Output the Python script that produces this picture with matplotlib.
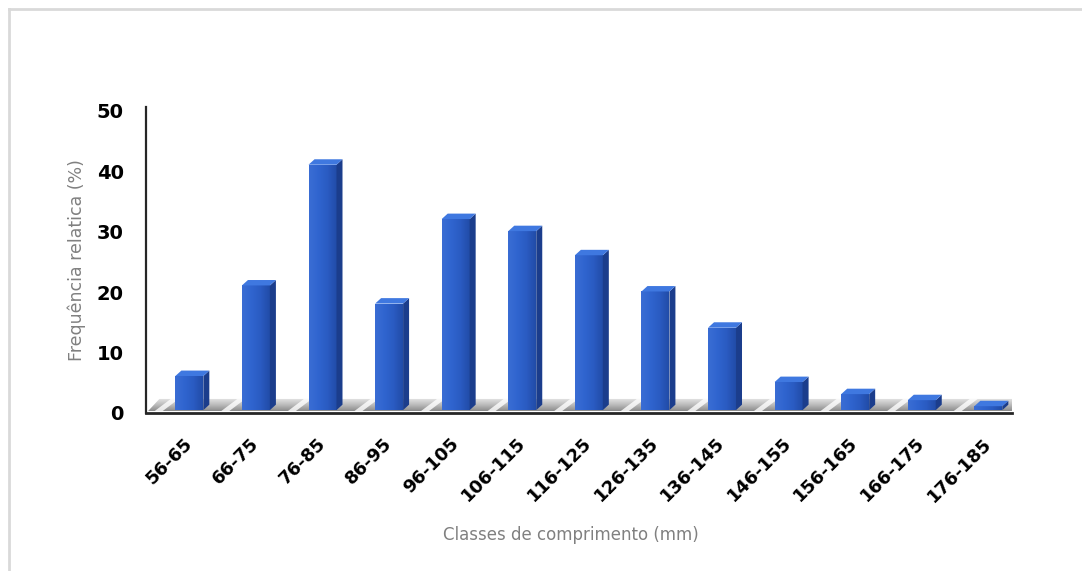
import numpy as np
import matplotlib.pyplot as plt
from matplotlib.patches import Polygon, Rectangle
from matplotlib.lines import Line2D
from matplotlib.colors import LinearSegmentedColormap

classes = ['56-65', '66-75', '76-85', '86-95', '96-105', '106-115', '116-125',
           '126-135', '136-145', '146-155', '156-165', '166-175', '176-185']
freq = [7, 22, 42, 19, 33, 31, 27, 21, 15, 6, 4, 3, 2]

fig = plt.figure(figsize=(10.82, 5.71), dpi=100)
ax = fig.add_axes([0.135, 0.277, 0.80, 0.535])

x = np.arange(len(classes))
w = 0.42      # largura da face frontal
dx = 0.09     # profundidade (horizontal)
dy = 0.9      # profundidade (vertical)
base = 0.45   # base das barras sobre o "piso"

# piso com sombra
floor = Polygon([(-0.62, 0.3), (12.35, 0.3), (12.75, 2.3), (-0.45, 2.3)],
                closed=True, facecolor='none', edgecolor='none')
ax.add_patch(floor)
grad = np.linspace(0, 1, 50).reshape(-1, 1)
im = ax.imshow(grad, extent=[-0.7, 12.8, 0.3, 2.3], origin='lower',
               cmap=LinearSegmentedColormap.from_list('floor', ['#8c8c8c', '#bdbdbd', '#e6e6e6']),
               aspect='auto', zorder=1)
im.set_clip_path(floor)
# reflexos claros em diagonal entre as barras
for xi in x:
    ax.add_patch(Polygon([(xi - 0.52, 0.3), (xi - 0.4, 0.3), (xi - 0.16, 2.3), (xi - 0.28, 2.3)],
                         closed=True, facecolor='white', alpha=0.8, edgecolor='none', zorder=1.5))

# barras com aparência 3D
front_cmap = LinearSegmentedColormap.from_list(
    'front', ['#3a6dd4', '#3065cf', '#2a5bc2', '#214ca8'])
hgrad = np.linspace(0, 1, 64).reshape(1, -1)
for xi, v in zip(x, freq):
    top = v - dy
    rect = Rectangle((xi - w / 2, base), w, top - base, facecolor='none', edgecolor='none')
    ax.add_patch(rect)
    img = ax.imshow(hgrad, extent=[xi - w / 2, xi + w / 2, base, top], cmap=front_cmap,
                    aspect='auto', zorder=3)
    img.set_clip_path(rect)
    side = Polygon([(xi + w / 2, base), (xi + w / 2 + dx, base + dy),
                    (xi + w / 2 + dx, v), (xi + w / 2, top)],
                   closed=True, facecolor='#1b3d8c', edgecolor='none', zorder=3)
    ax.add_patch(side)
    cap = Polygon([(xi - w / 2, top), (xi + w / 2, top),
                   (xi + w / 2 + dx, v), (xi - w / 2 + dx, v)],
                  closed=True, facecolor='#3f78e0', edgecolor='none', zorder=3)
    ax.add_patch(cap)

ax.set_xlim(-0.65, 12.35)
ax.set_ylim(0, 50.6)
ax.set_yticks([0, 10, 20, 30, 40, 50])
ax.set_xticks(x)
ax.set_xticklabels(classes, rotation=45, ha='right', va='center', rotation_mode='anchor',
                   fontsize=13, fontweight='bold', color='black')
ax.tick_params(axis='x', length=0, pad=20)
ax.tick_params(axis='y', length=0, pad=16, labelsize=14)
for lab in ax.get_yticklabels():
    lab.set_fontweight('bold')

for s in ['top', 'right']:
    ax.spines[s].set_visible(False)
ax.spines['left'].set_linewidth(1.6)
ax.spines['left'].set_color('#262626')
ax.spines['bottom'].set_linewidth(2)
ax.spines['bottom'].set_color('#262626')

ax.set_ylabel('Frequência relatica (%)', fontsize=12.5, color='#808080', labelpad=8)
fig.text(0.528, 0.063, 'Classes de comprimento (mm)', fontsize=12, color='#808080',
         ha='center', va='center')

# moldura da área do gráfico
fig.add_artist(Line2D([0.008, 1.0], [0.984, 0.984], color='#d9d9d9', lw=2))
fig.add_artist(Line2D([0.008, 0.008], [0.0, 0.984], color='#d9d9d9', lw=2))

fig.savefig('out.png', dpi=100)
